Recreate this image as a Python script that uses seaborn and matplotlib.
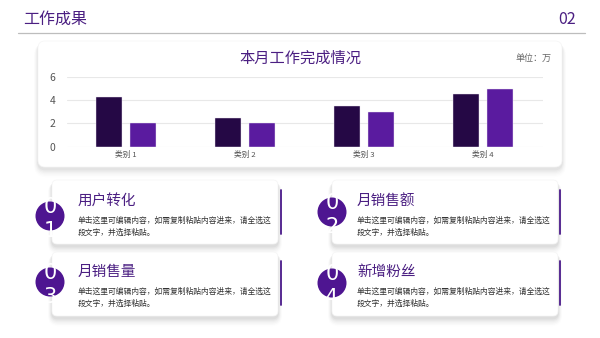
import matplotlib
matplotlib.use("Agg")
import matplotlib.pyplot as plt
from matplotlib.patches import FancyBboxPatch, Circle
import seaborn as sns
import pandas as pd

# ---------------- data ----------------
categories = ["类别 1", "类别 2", "类别 3", "类别 4"]
series_names = ["系列 1", "系列 2"]
series1 = [4.3, 2.5, 3.5, 4.5]
series2 = [2.0, 2.0, 3.0, 5.0]
y_ticks = [0, 2, 4, 6]
chart_title = "本月工作完成情况"
unit_label = "单位：万"
page_title = "工作成果"
page_number = "02"
card_titles = ["用户转化", "月销售额", "月销售量", "新增粉丝"]
card_numbers = ["01", "02", "03", "04"]
card_body = ["单击这里可编辑内容，如需复制粘贴内容进来，请全选这", "段文字，并选择粘贴。"]

colors = ["#250845", "#5a1b9f"]
purple = "#4b1f82"

sns.set_theme(style="white")
plt.rcParams["font.family"] = ["Noto Sans CJK SC", "DejaVu Sans"]

W, H = 600, 338
fig = plt.figure(figsize=(6, 3.38), dpi=100)
fig.patch.set_facecolor("white")

bg = fig.add_axes([0, 0, 1, 1], zorder=0)
bg.set_xlim(0, W)
bg.set_ylim(H, 0)
bg.axis("off")


def shadow_card(x, y, w, h, r=6, z=1, strength=1.0):
    for i, a in enumerate([0.03, 0.025, 0.02, 0.016, 0.012, 0.008]):
        d = i + 1
        bg.add_patch(FancyBboxPatch((x - d * 0.7, y + 2), w + d * 1.4, h + d * 1.4,
                                    boxstyle=f"round,pad=0,rounding_size={r + d}",
                                    fc="#000000", ec="none", alpha=a * strength, zorder=z))
    bg.add_patch(FancyBboxPatch((x, y), w, h, boxstyle=f"round,pad=0,rounding_size={r}",
                                fc="white", ec="#f5f5f5", lw=0.5, zorder=z + 0.5))


# header
bg.text(23, 19, page_title, fontsize=11.5, color=purple, va="center", ha="left")
bg.text(576, 19, page_number, fontsize=11.5, color=purple, va="center", ha="right")
bg.plot([18, 585], [33, 33], color="#bdbdbd", lw=0.9)

# chart card
shadow_card(38, 41, 524, 126, r=7)
bg.text(300, 58, chart_title, fontsize=11, color=purple, ha="center", va="center", zorder=5)
bg.text(551, 58, unit_label, fontsize=6.5, color="#666666", ha="right", va="center", zorder=5)

# info cards
cards = [
    dict(x=52, y=180, cx=50, cy=216, tx=78, ty=201, lx=281, ly=(190, 234)),
    dict(x=332, y=180, cx=332, cy=212, tx=357, ty=201, lx=560, ly=(190, 234)),
    dict(x=52, y=252, cx=50, cy=282, tx=78, ty=272, lx=281, ly=(261, 305)),
    dict(x=332, y=252, cx=332, cy=283, tx=357, ty=272, lx=560, ly=(261, 305)),
]
for c, title, num in zip(cards, card_titles, card_numbers):
    shadow_card(c["x"], c["y"], 226, 64, r=5, z=1, strength=1.2)
    circ = Circle((c["cx"], c["cy"]), 14.5, fc="#4e1591", ec="none", zorder=4)
    bg.add_patch(circ)
    t1 = bg.text(c["cx"], c["cy"] - 9, num[0], fontsize=15, color="white",
                 ha="center", va="center", zorder=5, family="DejaVu Sans")
    t2 = bg.text(c["cx"], c["cy"] + 15, num[1], fontsize=15, color="white",
                 ha="center", va="center", zorder=5, family="DejaVu Sans")
    t1.set_clip_path(circ)
    t2.set_clip_path(circ)
    bg.text(c["tx"], c["ty"], title, fontsize=10.5, color=purple, ha="left", va="center", zorder=5)
    bg.text(c["tx"], c["ty"] + 20, card_body[0], fontsize=5.6, color="#333333",
            ha="left", va="center", zorder=5)
    bg.text(c["tx"], c["ty"] + 32, card_body[1], fontsize=5.6, color="#333333",
            ha="left", va="center", zorder=5)
    bg.plot([c["lx"], c["lx"]], list(c["ly"]), color="#4a1a8a", lw=1.3, zorder=5)

# bar chart
df = pd.DataFrame({
    "类别": categories * 2,
    "系列": [series_names[0]] * 4 + [series_names[1]] * 4,
    "值": series1 + series2,
})
ax = fig.add_axes([66.5 / W, (H - 146.5) / H, 476 / W, (146.5 - 77) / H], zorder=3)
ax.patch.set_alpha(0)
sns.barplot(data=df, x="类别", y="值", hue="系列", palette=colors, width=0.57, gap=0.23,
            saturation=1, ax=ax, legend=False, edgecolor="#ece6f2", linewidth=0.3, zorder=3)
ax.set_ylim(0, 6)
ax.set_xlim(-0.5, 3.5)
ax.set_yticks(y_ticks)
ax.set_xlabel("")
ax.set_ylabel("")
for s in ax.spines.values():
    s.set_visible(False)
ax.grid(axis="y", color="#e8e8e8", lw=0.8, zorder=0)
ax.set_axisbelow(True)
ax.tick_params(axis="y", labelsize=7.5, colors="#555555", length=0, pad=8)
ax.tick_params(axis="x", labelsize=5.6, colors="#555555", length=0, pad=3)

fig.savefig("out.png", dpi=100)
